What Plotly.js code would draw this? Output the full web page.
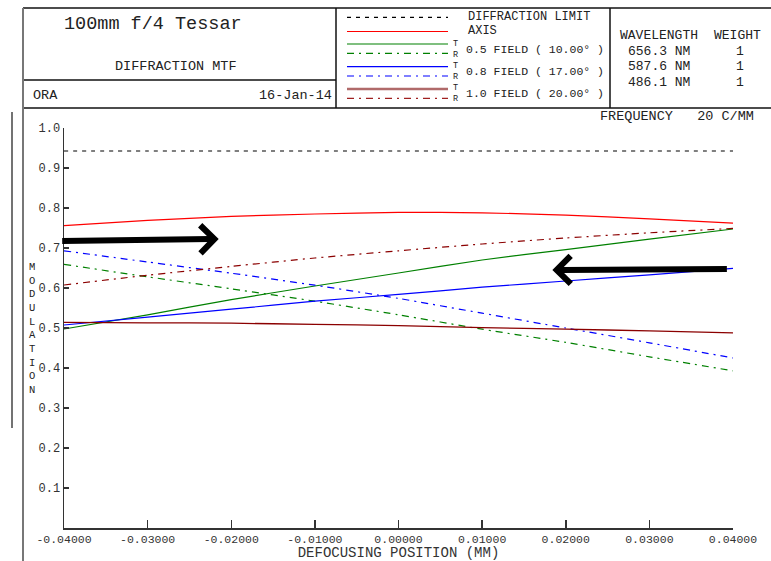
<!DOCTYPE html>
<html>
<head>
<meta charset="utf-8">
<script src="https://cdn.plot.ly/plotly-3.0.1.min.js"></script>
<style>html,body{margin:0;padding:0;background:#fff;}#chart{width:771px;height:561px;}</style>
</head>
<body>
<div id="chart"></div>
<script>
// ---- data ----
const defocus = [-0.04, -0.03, -0.02, -0.01, 0.00, 0.01, 0.02, 0.03, 0.04];
const diffLimit = [0.9425, 0.9425, 0.9425, 0.9425, 0.9425, 0.9425, 0.9425, 0.9425, 0.9425];
const axisMTF = [0.756, 0.769, 0.779, 0.785, 0.789, 0.788, 0.782, 0.773, 0.762];
const field05T = [0.4975, 0.533, 0.571, 0.605, 0.6375, 0.670, 0.696, 0.722, 0.7475];
const field05R = [0.659, 0.628, 0.598, 0.567, 0.533, 0.497, 0.464, 0.428, 0.393];
const field08T = [0.5075, 0.527, 0.547, 0.567, 0.584, 0.602, 0.6175, 0.633, 0.649];
const field08R = [0.693, 0.665, 0.637, 0.607, 0.574, 0.537, 0.500, 0.463, 0.425];
const field10T = [0.514, 0.513, 0.512, 0.509, 0.506, 0.501, 0.497, 0.493, 0.488];
const field10R = [0.6075, 0.632, 0.654, 0.675, 0.693, 0.710, 0.725, 0.738, 0.749];

const xTickVals = [-0.04, -0.03, -0.02, -0.01, 0.00, 0.01, 0.02, 0.03, 0.04];
const xTickText = ['-0.04000', '-0.03000', '-0.02000', '-0.01000', '0.00000', '0.01000', '0.02000', '0.03000', '0.04000'];
const yTickVals = [0.1, 0.2, 0.3, 0.4, 0.5, 0.6, 0.7, 0.8, 0.9, 1.0];
const yTickText = ['0.1', '0.2', '0.3', '0.4', '0.5', '0.6', '0.7', '0.8', '0.9', '1.0'];

const wavelengths = ['656.3 NM', '587.6 NM', '486.1 NM'];
const weights = ['1', '1', '1'];
const fieldLabels = ['0.5 FIELD ( 10.00\u00b0 )', '0.8 FIELD ( 17.00\u00b0 )', '1.0 FIELD ( 20.00\u00b0 )'];

// ---- styling ----
const FONT = 'Liberation Mono, Courier New, monospace';
const DD = '7px,5px,2px,5px';
const RED = '#ff0000', GREEN = '#008000', BLUE = '#0000ff', DRED = '#8b0000';

function tr(y, color, dash, width) {
  return {x: defocus, y: y, type: 'scatter', mode: 'lines', hoverinfo: 'skip',
    line: {color: color, dash: dash, width: width || 1.2, shape: 'spline', smoothing: 0.6}};
}
const data = [
  tr(diffLimit, '#000000', '4px,5px', 1.2),
  tr(axisMTF, RED, 'solid'),
  tr(field05T, GREEN, 'solid'),
  tr(field05R, GREEN, DD),
  tr(field08T, BLUE, 'solid'),
  tr(field08R, BLUE, DD),
  tr(field10T, DRED, 'solid', 1.3),
  tr(field10R, DRED, DD)
];

// paper coordinates helpers (pixel -> paper) ; plot area: x 64..733, y 128..528
const L = 64, R = 733, T = 128, B = 528;
const px = v => (v - L) / (R - L);
const py = v => (B - v) / (B - T);

const shapes = [];
function hline(x0, x1, y, color, w, dash) {
  shapes.push({type: 'line', xref: 'paper', yref: 'paper', x0: px(x0), x1: px(x1), y0: py(y), y1: py(y),
    line: {color: color, width: w, dash: dash || 'solid'}});
}
function vline(x, y0, y1, color, w) {
  shapes.push({type: 'line', xref: 'paper', yref: 'paper', x0: px(x), x1: px(x), y0: py(y0), y1: py(y1),
    line: {color: color, width: w}});
}
// frame
hline(23, 771, 8, '#111', 1.5);
hline(23, 336, 80, '#111', 1.5);
hline(23, 771, 108, '#111', 1.5);
vline(23, 8, 561, '#777', 2);
vline(336, 8, 108, '#111', 1.5);
vline(610, 8, 108, '#111', 1.5);
vline(12, 112, 428, '#444', 1.5);
// legend samples
hline(347, 448, 17.3, '#000', 1.2, '4px,5px');
hline(347, 448, 31.5, RED, 1.2);
hline(347, 448, 44, GREEN, 1.2);
hline(347, 448, 53.3, GREEN, 1.2, DD);
hline(347, 448, 66.7, BLUE, 1.2);
hline(347, 448, 76, BLUE, 1.2, DD);
hline(347, 448, 89, '#b06a6a', 2.5);
hline(347, 448, 98.3, '#a02020', 1.2, DD);

const annotations = [];
function txt(text, x, y, size, anchor, color) {
  annotations.push({text: text, xref: 'paper', yref: 'paper', x: px(x), y: py(y), showarrow: false,
    xanchor: anchor || 'left', yanchor: 'middle', font: {family: FONT, size: size, color: color || '#222'}});
}
txt('100mm f/4 Tessar', 62, 25, 18.5);
txt('DIFFRACTION MTF', 176, 67, 13.5, 'center');
txt('ORA', 31, 96, 13.5);
txt('16-Jan-14', 334, 96, 13.5, 'right');
txt('DIFFRACTION LIMIT', 466, 17.5, 12);
txt('AXIS', 466, 30.5, 12);
const fy = [49.5, 71.5, 93];
const ty = [43.5, 66, 88];
for (let i = 0; i < fieldLabels.length; i++) {
  txt(fieldLabels[i], 464, fy[i], 11.5);
  txt('T<br>R', 456, ty[i] + 5.5, 8.5, 'center');
}
txt('WAVELENGTH', 618, 35.5, 13);
txt('WEIGHT', 712, 35.5, 13);
const wy = [51.5, 66.5, 82.5];
for (let i = 0; i < wavelengths.length; i++) {
  txt(wavelengths[i], 626, wy[i], 13);
  txt(weights[i], 740, wy[i], 13, 'center');
}
txt('FREQUENCY   20 C/MM', 756, 117, 13.5, 'right');
// vertical stacked y-axis title
txt('MODULATION'.split('').join('<br>'), 32, 328, 10.5, 'center');
// arrows
annotations.push({xref: 'x', yref: 'y', x: -0.0215, y: 0.7225, ax: -158, ay: 2, showarrow: true,
  arrowhead: 4, arrowwidth: 6, arrowsize: 0.9, arrowcolor: '#000', text: ''});
annotations.push({xref: 'x', yref: 'y', x: 0.0184, y: 0.645, ax: 176, ay: -1, showarrow: true,
  arrowhead: 4, arrowwidth: 6, arrowsize: 0.9, arrowcolor: '#000', text: ''});

const layout = {
  width: 771, height: 561,
  margin: {l: L, r: 771 - R, t: T, b: 561 - B, pad: 0},
  paper_bgcolor: '#fff', plot_bgcolor: '#fff',
  showlegend: false,
  xaxis: {range: [-0.04, 0.04], tickvals: xTickVals, ticktext: xTickText, showgrid: false, zeroline: false,
    showline: true, linecolor: '#333', linewidth: 1.5, ticks: 'inside', ticklen: 8, tickcolor: '#333', tickwidth: 1.5,
    tickfont: {family: FONT, size: 11.5, color: '#333'}, automargin: false,
    title: {text: 'DEFOCUSING POSITION (MM)', font: {family: FONT, size: 14, color: '#333'}, standoff: 2}},
  yaxis: {range: [0, 1.0], tickvals: yTickVals, ticktext: yTickText, showgrid: false, zeroline: false,
    showline: true, linecolor: '#333', linewidth: 1.5, ticks: 'inside', ticklen: 5, tickcolor: '#333', tickwidth: 1.5,
    tickfont: {family: FONT, size: 12, color: '#333'}, automargin: false},
  shapes: shapes,
  annotations: annotations
};
Plotly.newPlot('chart', data, layout, {staticPlot: true, displayModeBar: false});
</script>
</body>
</html>
